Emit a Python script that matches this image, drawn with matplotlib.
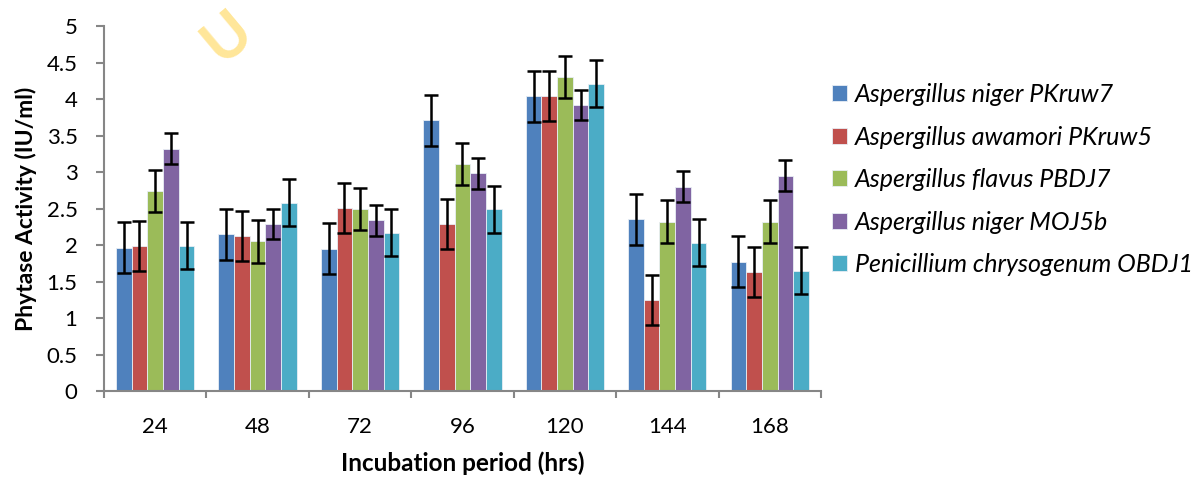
import numpy as np
import matplotlib.pyplot as plt

plt.rcParams["font.family"] = ["Lato", "DejaVu Sans"]

periods = ["24", "48", "72", "96", "120", "144", "168"]
strains = [
    "Aspergillus niger PKruw7",
    "Aspergillus awamori PKruw5",
    "Aspergillus flavus PBDJ7",
    "Aspergillus niger MOJ5b",
    "Penicillium chrysogenum OBDJ1",
]
niger_pk = [1.96, 2.15, 1.95, 3.71, 4.04, 2.35, 1.77]
awamori = [1.99, 2.12, 2.51, 2.29, 4.04, 1.25, 1.63]
flavus = [2.74, 2.05, 2.49, 3.11, 4.30, 2.32, 2.32]
niger_moj = [3.32, 2.29, 2.34, 2.98, 3.92, 2.80, 2.95]
penicillium = [1.99, 2.58, 2.17, 2.49, 4.21, 2.03, 1.65]
errors = [0.35, 0.34, 0.29, 0.21, 0.32]

colors = ["#4F81BD", "#C0504D", "#9BBB59", "#8064A2", "#4BACC6"]
series = [niger_pk, awamori, flavus, niger_moj, penicillium]

fig = plt.figure(figsize=(11.99, 4.78), dpi=100, facecolor="white")
ax = fig.add_axes([0.0867, 0.182, 0.598, 0.7636])

x = np.arange(len(periods))
width = 0.153
for j, (vals, col, lab, err) in enumerate(zip(series, colors, strains, errors)):
    ax.bar(x + (j - 2) * width, vals, width, color=col, edgecolor="#e8eef5",
           linewidth=0.6, label=lab,
           yerr=err, error_kw=dict(ecolor="black", elinewidth=1.8,
                                   capsize=5, capthick=1.8))

ax.set_xlim(-0.5, len(periods) - 0.5)
ax.set_ylim(0, 5)
ax.set_yticks(np.arange(0, 5.01, 0.5))
ax.set_yticklabels(["0", "0.5", "1", "1.5", "2", "2.5", "3", "3.5", "4", "4.5", "5"])
ax.set_xticks(x)
ax.set_xticklabels(periods)
ax.set_xticks(np.arange(-0.5, len(periods)), minor=True)

for s in ["top", "right"]:
    ax.spines[s].set_visible(False)
for s in ["left", "bottom"]:
    ax.spines[s].set_color("#868686")
    ax.spines[s].set_linewidth(1.5)

ax.tick_params(axis="y", direction="out", length=6, width=1.5, color="#868686",
               labelsize=16, pad=13)
ax.tick_params(axis="x", which="major", length=0, labelsize=16, pad=19)
ax.tick_params(axis="x", which="minor", direction="out", length=5, width=1.5,
               color="#868686")

ax.set_ylabel("Phytase Activity (IU/ml)", fontsize=16.5, fontweight="bold", labelpad=7)
ax.set_xlabel("Incubation period (hrs)", fontsize=17.5, fontweight="bold", labelpad=10)

fig.legend(loc="upper left", bbox_to_anchor=(0.694, 0.826), frameon=False,
           prop=dict(size=18, style="italic"), handlelength=0.6,
           handleheight=0.6, handletextpad=0.3, labelspacing=0.78,
           borderpad=0, borderaxespad=0)

# faint watermark fragment at the top
fig.text(0.19, 0.999, "U", color="#FFE699", fontsize=44, fontweight="bold",
         rotation=40, ha="center", va="top")

fig.savefig("out.png", dpi=100, facecolor="white")
